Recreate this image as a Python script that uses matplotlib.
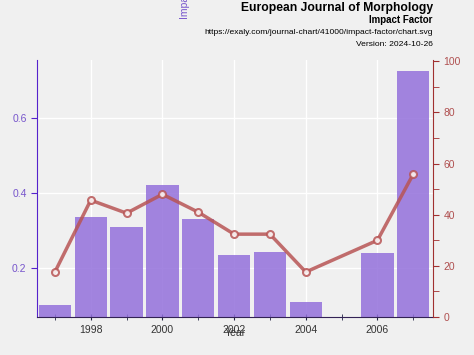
import matplotlib
matplotlib.use("Agg")
import matplotlib.pyplot as plt
from matplotlib.ticker import MultipleLocator

plt.rcParams["font.family"] = ["Liberation Sans", "DejaVu Sans"]

# values
years = [1997, 1998, 1999, 2000, 2001, 2002, 2003, 2004, 2006, 2007]
impact = [0.101, 0.336, 0.309, 0.421, 0.331, 0.235, 0.243, 0.109, 0.240, 0.725]
pct_years = [1997, 1998, 1999, 2000, 2001, 2002, 2003, 2004, 2006, 2007]
percentile = [17.6, 45.7, 40.6, 48.0, 41.0, 32.4, 32.4, 17.6, 30.0, 55.9]

bg = "#f0f0f0"
fig = plt.figure(figsize=(4.74, 3.55), dpi=100, facecolor=bg)
ax = fig.add_axes([0.078, 0.107, 0.8355, 0.724], facecolor=bg)

ax.bar(years, impact, width=0.9, color="#9370db", alpha=0.85, zorder=2)
ax.set_xlim(1996.5, 2007.55)
ax.set_ylim(0.069, 0.755)
ax.set_yticks([0.2, 0.4, 0.6])
ax.set_xticks([1998, 2000, 2002, 2004, 2006])
ax.xaxis.set_minor_locator(MultipleLocator(1))
ax.grid(True, color="white", linewidth=1, zorder=0)
ax.set_axisbelow(True)
for s in ["top", "right"]:
    ax.spines[s].set_visible(False)
ax.spines["left"].set_color("#5522cc")
ax.spines["bottom"].set_color("#332255")
ax.tick_params(axis="y", colors="#5522cc", labelcolor="#7755cc", labelsize=7.5, length=4)
ax.tick_params(axis="x", which="both", colors="#222244", labelcolor="#333333", labelsize=7.5,
               direction="inout", length=5)
ax.set_xlabel("Year", fontsize=7.5, color="#333333", labelpad=-5)

ax2 = ax.twinx()
ax2.plot(pct_years, percentile, color="#b85555", alpha=0.85, linewidth=2.5,
         marker="o", markersize=5, markerfacecolor="white", markeredgecolor="#b85555",
         markeredgewidth=1.5, zorder=3)
ax2.set_ylim(0, 100.5)
ax2.yaxis.set_major_locator(MultipleLocator(20))
ax2.yaxis.set_minor_locator(MultipleLocator(10))
for s in ["top", "left", "bottom"]:
    ax2.spines[s].set_visible(False)
ax2.spines["right"].set_color("#a03030")
ax2.tick_params(axis="y", which="both", colors="#a03030", labelcolor="#b05050", labelsize=7.5, length=4)

fig.text(0.39, 1 - 19 / 355, "Impact Factor", rotation=90, va="bottom", ha="center",
         fontsize=7.5, color="#7755cc")
fig.text(0.913, 1 - 8 / 355, "European Journal of Morphology", ha="right", va="center",
         fontsize=8.7, fontweight="bold")
fig.text(0.913, 1 - 20 / 355, "Impact Factor", ha="right", va="center",
         fontsize=7, fontweight="bold")
fig.text(0.913, 1 - 33 / 355, "https://exaly.com/journal-chart/41000/impact-factor/chart.svg",
         ha="right", va="center", fontsize=6.1)
fig.text(0.913, 1 - 44 / 355, "Version: 2024-10-26", ha="right", va="center", fontsize=6.1)

fig.savefig("out.png", dpi=100, facecolor=bg)
